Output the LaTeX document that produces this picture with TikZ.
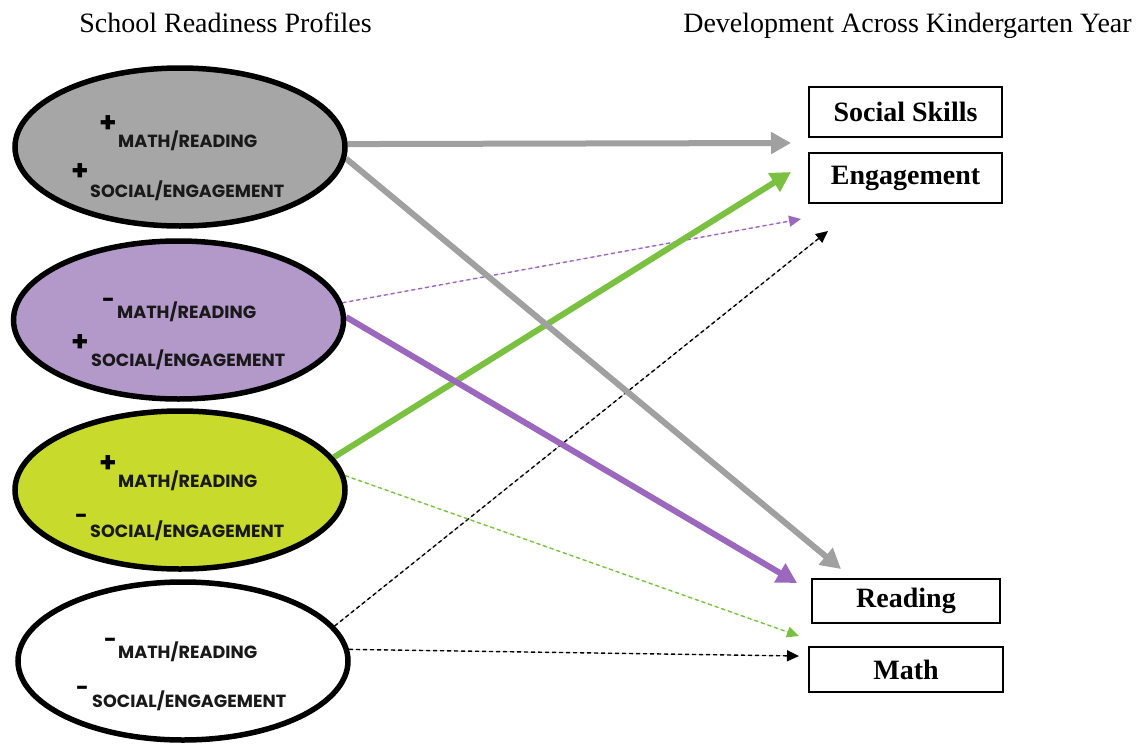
\documentclass[tikz,border=0pt]{standalone}
\usepackage{fontspec}
\setmainfont{Liberation Serif}
\newfontfamily\gothic{Poppins}
\usetikzlibrary{arrows.meta,shapes.geometric}
\pgfdeclarelayer{bg}
\pgfsetlayers{bg,main}
\definecolor{pgray}{RGB}{166,166,166}
\definecolor{agray}{RGB}{160,160,160}
\definecolor{ppurple}{RGB}{178,153,201}
\definecolor{apurple}{RGB}{156,104,190}
\definecolor{pgreen}{RGB}{200,218,43}
\definecolor{agreen}{RGB}{122,193,66}
\begin{document}
\begin{tikzpicture}[x=1pt,y=-1pt,
  prof/.style={ellipse, draw=black, line width=5.5pt, minimum width=330pt, minimum height=158pt, inner sep=0pt},
  lbl/.style={anchor=base west, inner sep=0pt, font=\gothic\bfseries\fontsize{17.6}{17.6}\selectfont, text=black!90},
  psgn/.style={anchor=east, inner sep=0pt, font=\gothic\bfseries\fontsize{28}{28}\selectfont},
  msgn/.style={anchor=north east, inner sep=0pt, font=\gothic\bfseries\fontsize{22}{22}\selectfont},
  outbox/.style={draw=black, line width=1.6pt, inner sep=0pt, font=\bfseries\fontsize{28}{28}\selectfont},
  ttl/.style={font=\fontsize{28}{28}\selectfont, inner sep=0pt, anchor=base},
  bigarrow/.style={line width=6pt, -{Triangle[length=20pt,width=21pt]}},
  dasharrow/.style={line width=1.4pt, dash pattern=on 4pt off 3pt, -{Triangle[length=12pt,width=11pt]}},
]
\path[use as bounding box] (0,0) rectangle (1148,744);

% titles
\node[ttl] (t1) at (225.5,32) {School Readiness Profiles};
\node[ttl] (t2) at (907.5,32) {Development Across Kindergarten Year};

% profiles
\node[prof, fill=pgray] (g) at (180,147) {};
\node[prof, fill=ppurple] (p) at (178.5,320) {};
\node[prof, fill=pgreen] (n) at (180,490) {};
\node[prof, fill=white] (w) at (183,661) {};

% labels gray
\node[psgn] (gs1) at (117,124) {+};
\node[lbl] (gl1) at (118,147) {MATH/READING};
\node[psgn] (gs2) at (89,172) {+};
\node[lbl] (gl2) at (90,197) {SOCIAL/ENGAGEMENT};
% purple
\node[msgn] (ps1) at (115,298) {-};
\node[lbl] (pl1) at (117,318) {MATH/READING};
\node[psgn] (ps2) at (89,343) {+};
\node[lbl] (pl2) at (91,366) {SOCIAL/ENGAGEMENT};
% green
\node[psgn] (ns1) at (117,464) {+};
\node[lbl] (nl1) at (118,487) {MATH/READING};
\node[msgn] (ns2) at (88,514) {-};
\node[lbl] (nl2) at (90,537) {SOCIAL/ENGAGEMENT};
% white
\node[msgn] (ws1) at (117,638) {-};
\node[lbl] (wl1) at (118,658) {MATH/READING};
\node[msgn] (ws2) at (89,686) {-};
\node[lbl] (wl2) at (92,707) {SOCIAL/ENGAGEMENT};

% outcome boxes
\node[outbox, minimum width=193pt, minimum height=50pt] (soc) at (905.5,112) {Social Skills};
\node[outbox, minimum width=193pt, minimum height=50pt] (eng) at (905.5,178) {Engagement};
\node[outbox, minimum width=188pt, minimum height=44pt] (rea) at (906,601) {Reading};
\node[outbox, minimum width=194pt, minimum height=45pt] (mat) at (906,669.5) {Math};

% arrow tips
\coordinate (tg1) at (791,143);
\coordinate (tg2) at (841,569);
\coordinate (tpd) at (801,219);
\coordinate (tpt) at (797,583);
\coordinate (tnt) at (791,172);
\coordinate (tnd) at (799,636);
\coordinate (tw1) at (828,231);
\coordinate (tw2) at (799,656);

\begin{pgfonlayer}{bg}
\draw[dasharrow, draw=black, fill=black] (w.13.5) -- (tw1);
\draw[dasharrow, draw=black, fill=black] (w.4.8) -- (tw2);
\draw[dasharrow, draw=apurple, fill=apurple] (p.6.9) -- (tpd);
\draw[dasharrow, draw=agreen, fill=agreen] (n.5) -- (tnd);
\draw[bigarrow, draw=agray, fill=agray] (g.1.4) -- (tg1);
\draw[bigarrow, draw=agreen, fill=agreen] (n.12) -- (tnt);
\draw[bigarrow, draw=agray, fill=agray] (g.-4.5) -- (tg2);
\draw[bigarrow, draw=apurple, fill=apurple] (p.1.4) -- (tpt);
\end{pgfonlayer}
\end{tikzpicture}
\end{document}
